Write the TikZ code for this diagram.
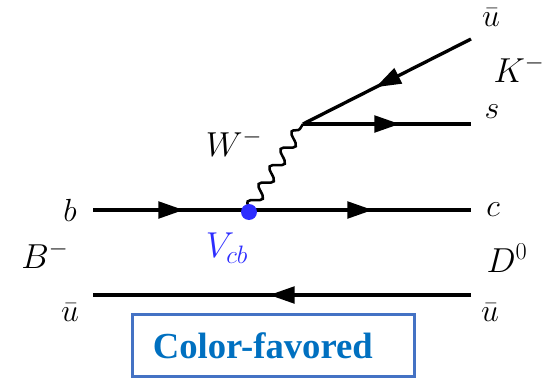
\RequirePackage{fix-cm}
\documentclass[tikz,border=0pt]{standalone}
\usepackage{fontspec}
\newfontfamily\boxfont{Liberation Serif}
\usetikzlibrary{arrows.meta,decorations.markings,decorations.pathmorphing}
\definecolor{vblue}{RGB}{45,45,255}
\definecolor{frameblue}{RGB}{68,114,196}
\definecolor{tagblue}{RGB}{0,112,192}

\begin{document}
\begin{tikzpicture}[x=0.75pt, y=0.75pt,
  fermion/.style={line width=2.5pt, postaction={decorate},
    decoration={markings, mark=at position 0.5 with
      {\arrow[xshift=9.5pt]{Triangle[length=19pt, width=12.5pt]}}}},
  boson/.style={line width=1.9pt, decorate,
    decoration={snake, amplitude=4.3pt, segment length=15.5pt}},
  quark/.style={font=\fontsize{24}{28}\selectfont, inner sep=1pt},
  hadron/.style={font=\fontsize{26}{30}\selectfont, inner sep=1pt},
  vlabel/.style={font=\fontsize{27}{31}\selectfont, text=vblue, inner sep=1pt},
  vdot/.style={circle, fill=vblue, minimum size=12pt, inner sep=0pt},
  tagbox/.style={draw=frameblue, line width=2.3pt, minimum height=47pt,
                 inner xsep=15pt, text width=181pt, align=left,
                 text=tagblue, font=\boxfont\bfseries\fontsize{27.5}{32}\selectfont},
]
\useasboundingbox (0,0) rectangle (544,380);

\coordinate (bin) at (93,170);
\coordinate (vtx) at (249,170);
\coordinate (cout) at (471,170);
\coordinate (wvtx) at (303,256);
\coordinate (sout) at (471,256);
\coordinate (ubtop) at (471,341);
\coordinate (ubl) at (93,85);
\coordinate (ubr) at (471,85);

\draw[fermion] (bin) -- (vtx);
\draw[fermion] (vtx) -- (cout);
\draw[fermion] (wvtx) -- (sout);
\draw[fermion] (ubtop) -- (wvtx);
\draw[fermion] (ubr) -- (ubl);
\draw[boson] (vtx) -- (wvtx);

\node[vdot] (vcb) at (249,168) {};

\node[quark] (qb) at (70,170) {$b$};
\node[hadron] (bmes) at (45,125) {$B^-$};
\node[quark] (ubarl) at (70,67) {$\bar u$};
\node[quark] (qc) at (493,170) {$c$};
\node[hadron] (dmes) at (507,122) {$D^0$};
\node[quark] (ubarr) at (490,67) {$\bar u$};
\node[quark] (qs) at (492,268) {$s$};
\node[quark] (ubart) at (491,362) {$\bar u$};
\node[hadron] (kmes) at (519,311) {$K^-$};
\node[vlabel, text=black, font=\fontsize{26}{30}\selectfont] (wlab) at (234,237) {$W^-$};
\node[vlabel] (vlab) at (227,132) {$V_{cb}$};

\node[tagbox] (tag) at (273.5,34.5) {Color-favored};
\end{tikzpicture}
\end{document}
